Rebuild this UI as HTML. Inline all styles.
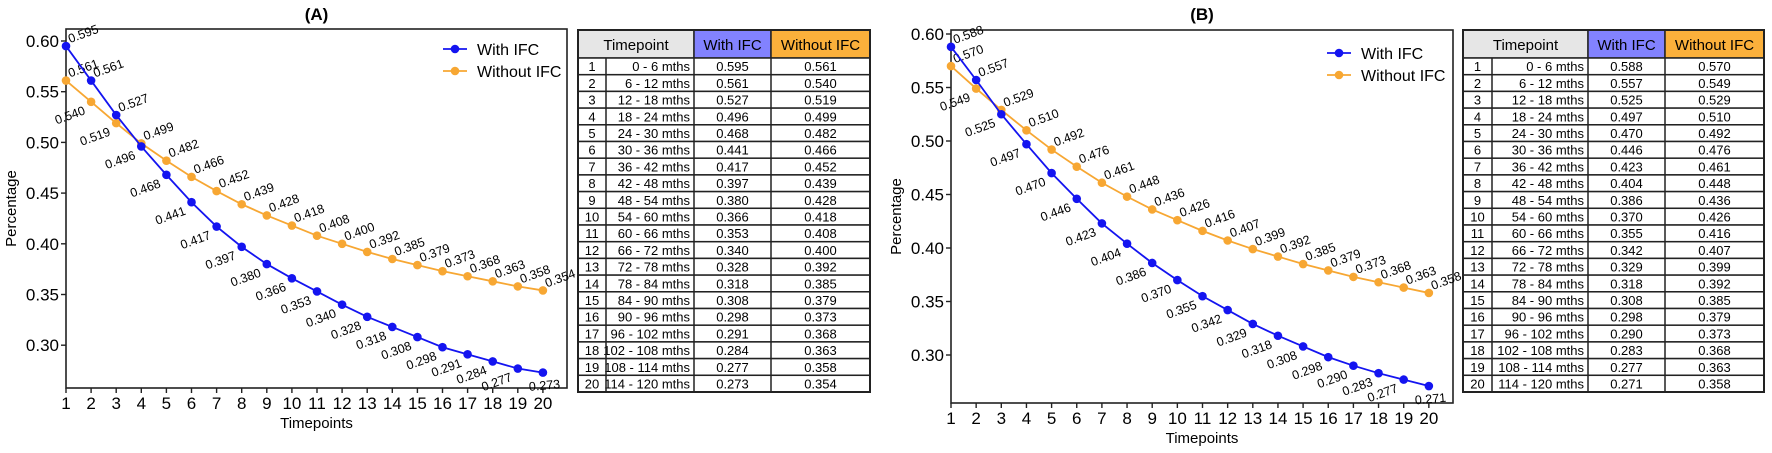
<!DOCTYPE html>
<html><head><meta charset="utf-8"><style>
body{margin:0;background:#fff;width:1772px;height:453px;overflow:hidden}
svg{display:block;font-family:"Liberation Sans",Arial,sans-serif}
</style></head><body>
<svg id="root" width="1772" height="453" viewBox="0 0 1772 453"></svg>
<script>
const timepoints=[1,2,3,4,5,6,7,8,9,10,11,12,13,14,15,16,17,18,19,20];
const periods=["0 - 6 mths","6 - 12 mths","12 - 18 mths","18 - 24 mths","24 - 30 mths","30 - 36 mths","36 - 42 mths","42 - 48 mths","48 - 54 mths","54 - 60 mths","60 - 66 mths","66 - 72 mths","72 - 78 mths","78 - 84 mths","84 - 90 mths","90 - 96 mths","96 - 102 mths","102 - 108 mths","108 - 114 mths","114 - 120 mths"];
const withA=[0.595,0.561,0.527,0.496,0.468,0.441,0.417,0.397,0.380,0.366,0.353,0.340,0.328,0.318,0.308,0.298,0.291,0.284,0.277,0.273];
const withoutA=[0.561,0.540,0.519,0.499,0.482,0.466,0.452,0.439,0.428,0.418,0.408,0.400,0.392,0.385,0.379,0.373,0.368,0.363,0.358,0.354];
const withB=[0.588,0.557,0.525,0.497,0.470,0.446,0.423,0.404,0.386,0.370,0.355,0.342,0.329,0.318,0.308,0.298,0.290,0.283,0.277,0.271];
const withoutB=[0.570,0.549,0.529,0.510,0.492,0.476,0.461,0.448,0.436,0.426,0.416,0.407,0.399,0.392,0.385,0.379,0.373,0.368,0.363,0.358];
const yTicks=[0.30,0.35,0.40,0.45,0.50,0.55,0.60];

const NS="http://www.w3.org/2000/svg";
const root=document.getElementById('root');
function mk(tag,attrs,parent,text){const e=document.createElementNS(NS,tag);for(const k in attrs)e.setAttribute(k,attrs[k]);if(text!==undefined)e.textContent=text;(parent||root).appendChild(e);return e;}

function panel(p){
  const g=mk('g',{});
  
  
  const xS=i=>p.x0+(i-1)*p.dx;
  const yS=v=>p.y60+(0.60-v)/0.05*p.dy;
  const t=mk('text',{x:(p.L+p.R)/2,y:20,'text-anchor':'middle','font-size':17,'font-weight':'bold'},g,'('+p.id+')');
  
  const box=mk('rect',{x:p.L,y:p.T,width:p.R-p.L,height:p.B-p.T,fill:'none',stroke:'#222','stroke-width':1.6},g);
  
  yTicks.forEach(v=>{
    mk('line',{x1:p.L-5,x2:p.L,y1:yS(v),y2:yS(v),stroke:'#222','stroke-width':1.4},g);
    const tl=mk('text',{x:p.L-7,y:yS(v)+6,'text-anchor':'end','font-size':17},g,v.toFixed(2));
    
  });
  timepoints.forEach(i=>{
    mk('line',{x1:xS(i),x2:xS(i),y1:p.B,y2:p.B+5,stroke:'#222','stroke-width':1.4},g);
    const tl=mk('text',{x:xS(i),y:p.B+21,'text-anchor':'middle','font-size':17},g,String(i));
    
  });
  const xt=mk('text',{x:(p.L+p.R)/2,y:p.B+40,'text-anchor':'middle','font-size':15},g,'Timepoints');
  
  const cy=(p.T+p.B)/2;
  const yt=mk('text',{x:p.L-50,y:cy,'text-anchor':'middle','font-size':15,transform:`rotate(-90 ${p.L-50} ${cy})`},g,'Percentage');
  
  const series=[{vals:p.without,col:'#f7a733',name:'without-ifc',lab:p.labO},{vals:p.with,col:'#1414f0',name:'with-ifc',lab:p.labW}];
  series.forEach(s=>{
    const ln=mk('polyline',{points:s.vals.map((v,k)=>xS(timepoints[k])+','+yS(v)).join(' '),fill:'none',stroke:s.col,'stroke-width':1.8},g);
    
    s.vals.forEach((v,k)=>{
      const cx=xS(timepoints[k]),cyy=yS(v);
      const c=mk('circle',{cx:cx,cy:cyy,r:4.3,fill:s.col},g);
      
      const side=s.lab[k];
      let lx,ly,anchor,rot=-20;
      if(side==='r'){lx=cx+4;ly=cyy-3;anchor='start';}
      else if(side==='b'){lx=cx+2;ly=cyy+17;anchor='middle';rot=-5;}
      else {lx=cx-5;ly=cyy+12;anchor='end';}
      const lt=mk('text',{x:lx,y:ly,'text-anchor':anchor,'font-size':12.5,transform:`rotate(${rot} ${lx} ${ly})`},g,v.toFixed(3));
      
    });
  });
  [['With IFC','#1414f0',p.legY],['Without IFC','#f7a733',p.legY+22]].forEach(([n,c,y])=>{
    const lg=mk('g',{},g);
    
    mk('line',{x1:p.legX,x2:p.legX+24,y1:y,y2:y,stroke:c,'stroke-width':1.8},lg);
    mk('circle',{cx:p.legX+12,cy:y,r:4.3,fill:c},lg);
    mk('text',{x:p.legX+34,y:y+6,'font-size':16},lg,n);
  });
  const tb=mk('g',{},g);
  
  const c=p.cols, top=30, hb=58, rh=(392-58)/20;
  const hdr=[[c[0],c[2],'#e6e6e6','Timepoint'],[c[2],c[3],'#8282ff','With IFC'],[c[3],c[4],'#fbb03b','Without IFC']];
  hdr.forEach(([a,b,f,txt])=>{
    mk('rect',{x:a,y:top,width:b-a,height:hb-top,fill:f,stroke:'#222','stroke-width':1.5},tb);
    const ht=mk('text',{x:(a+b)/2,y:top+20,'text-anchor':'middle','font-size':15},tb,txt);
    
  });
  timepoints.forEach((tp,k)=>{
    const y=hb+k*rh;
    mk('rect',{x:c[0],y:y,width:c[4]-c[0],height:rh,fill:'#fff',stroke:'#222','stroke-width':1.5},tb);
    const cells=[[tp,(c[0]+c[1])/2,'middle'],[periods[k],c[2]-4,'end'],[p.with[k].toFixed(3),(c[2]+c[3])/2,'middle'],[p.without[k].toFixed(3),(c[3]+c[4])/2,'middle']];
    cells.forEach(([txt,x,a])=>{
      const ct=mk('text',{x:x,y:y+rh-3.5,'text-anchor':a,'font-size':13},tb,String(txt));
      
    });
  });
  [c[1],c[2],c[3]].forEach(x=>mk('line',{x1:x,x2:x,y1:hb,y2:392,stroke:'#222','stroke-width':1.5},tb));
  mk('rect',{x:c[0],y:top,width:c[4]-c[0],height:392-top,fill:'none',stroke:'#222','stroke-width':2},tb);
}
const labWA=['r','r','r','l','l','l','l','l','l','l','l','l','l','l','l','l','l','l','l','b'];
const labOA=['r','l','l','r','r','r','r','r','r','r','r','r','r','r','r','r','r','r','r','r'];
const labWB=['r','r','l','l','l','l','l','l','l','l','l','l','l','l','l','l','l','l','l','b'];
const labOB=['r','l','r','r','r','r','r','r','r','r','r','r','r','r','r','r','r','r','r','r'];
panel({id:'A',L:66,R:567,T:29,B:388,x0:66,dx:25.1,y60:41,dy:50.7,with:withA,without:withoutA,labW:labWA,labO:labOA,legX:443,legY:49,cols:[578,606,694,771,870]});
panel({id:'B',L:951,R:1453,T:30,B:403,x0:951,dx:25.15,y60:34,dy:53.5,with:withB,without:withoutB,labW:labWB,labO:labOB,legX:1327,legY:53,cols:[1463,1492,1588,1665,1764]});
</script>
</body></html>
